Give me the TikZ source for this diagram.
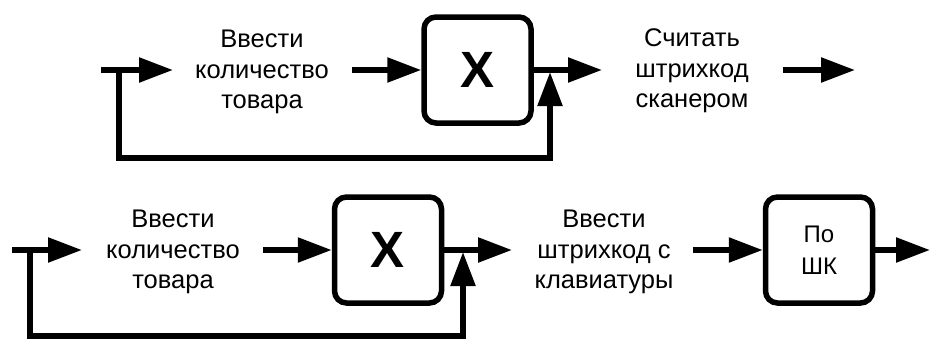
\documentclass[tikz,border=0pt]{standalone}
\usepackage{fontspec}
\setmainfont{Liberation Sans}
\usetikzlibrary{arrows.meta}
\begin{document}
\begin{tikzpicture}[x=1pt,y=-1pt,
  flow/.style={line width=5.5pt, -{Triangle[length=34pt,width=24pt]}},
  lbl/.style={align=center, font=\fontsize{25.5}{30.5}\selectfont, inner sep=0pt},
  opbox/.style={draw, line width=5.5pt, rounded corners=12pt, minimum width=107pt,
    minimum height=106pt, inner sep=0pt, align=center},
  xlbl/.style={font=\fontsize{51}{60}\bfseries\selectfont},
  shk/.style={font=\fontsize{24}{32}\selectfont}]
\useasboundingbox (0,0) rectangle (931,338);
% top row
\node[lbl] (t1) at (262,72) {Ввести\\количество\\товара};
\node[opbox, xlbl] (b1) at (477.5,70) {X};
\node[lbl] (t2) at (692,71) {Считать\\штрихкод\\сканером};
\coordinate (s1) at (101,70);
\coordinate (j1) at (119,70);
\coordinate (a1) at (173,70);
\coordinate (c1) at (352,70);
\coordinate (o1) at (602,70);
\coordinate (l1) at (119,158);
\coordinate (r1) at (550,158);
\coordinate (u1) at (550,72);
\coordinate (d1) at (783,70);
\coordinate (e1) at (855,70);
\draw[flow] (s1) -- (a1);
\draw[flow] (c1) -- (b1.west);
\draw[flow] (b1.east) -- (o1);
\draw[flow] (j1) -- (l1) -- (r1) -- (u1);
\draw[flow] (d1) -- (e1);
% bottom row
\node[lbl] (t3) at (173,252) {Ввести\\количество\\товара};
\node[opbox, xlbl] (b2) at (388,250) {X};
\node[lbl] (t4) at (604,252) {Ввести\\штрихкод с\\клавиатуры};
\node[opbox, shk] (b3) at (819,250) {По\\ШК};
\coordinate (s2) at (12,250);
\coordinate (j2) at (30,250);
\coordinate (a2) at (82,250);
\coordinate (c2) at (263,250);
\coordinate (o2) at (512,250);
\coordinate (l2) at (30,336);
\coordinate (r2) at (463,336);
\coordinate (u2) at (463,252);
\coordinate (d2) at (693,250);
\coordinate (e2) at (930,250);
\draw[flow] (s2) -- (a2);
\draw[flow] (c2) -- (b2.west);
\draw[flow] (b2.east) -- (o2);
\draw[flow] (j2) -- (l2) -- (r2) -- (u2);
\draw[flow] (d2) -- (b3.west);
\draw[flow] (b3.east) -- (e2);
\end{tikzpicture}
\end{document}
